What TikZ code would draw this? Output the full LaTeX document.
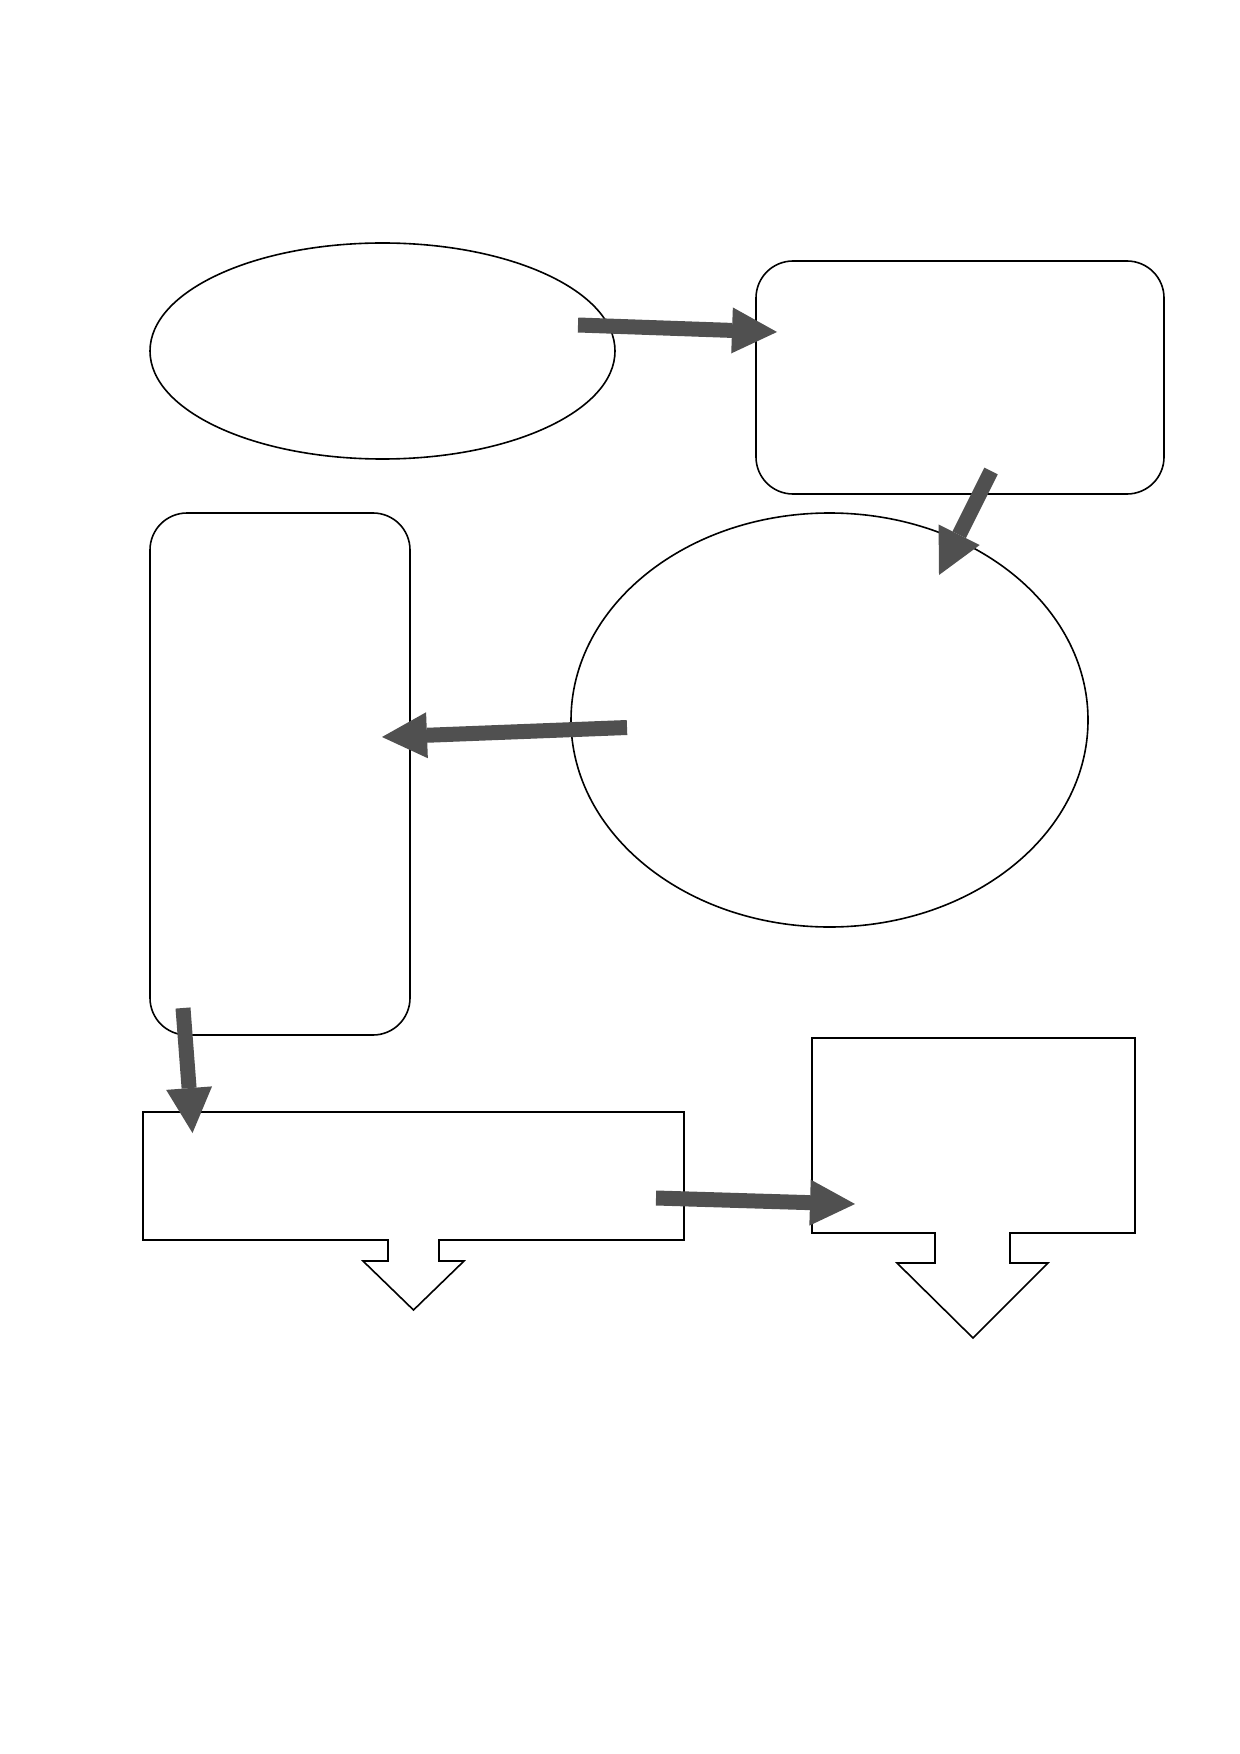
\documentclass[tikz,border=0pt]{standalone}
\usepackage{tikz}
\usetikzlibrary{shapes.geometric,arrows.meta}
\definecolor{arrowgray}{RGB}{80,80,80}

\begin{document}
\begin{tikzpicture}[x=0.5pt,y=-0.5pt,line width=0.8pt,
    oval/.style={ellipse,draw,inner sep=0pt,outer sep=0pt},
    card/.style={rectangle,draw,rounded corners=18.5pt,inner sep=0pt,outer sep=0pt},
    plainbox/.style={rectangle,inner sep=0pt,outer sep=0pt},
    bigarrow/.style={line width=7.5pt,color=arrowgray,-{Triangle[length=22.5pt,width=23pt,line width=0pt]}}]

\useasboundingbox [fill=white] (0,0) rectangle (1240,1754);

\node (topoval) [oval,minimum width=232.5pt,minimum height=108pt] at (382.5,351) {};
\node (topcard) [card,minimum width=204pt,minimum height=116.5pt] at (960,377.5) {};
\node (bigoval) [oval,minimum width=258.5pt,minimum height=207pt] at (829.5,720) {};
\node (sidecard) [card,minimum width=130pt,minimum height=261pt] at (280,774) {};
\node (widebox) [plainbox,minimum width=270.5pt,minimum height=64pt] at (413.5,1176) {};
\node (tallbox) [plainbox,minimum width=161.5pt,minimum height=97.5pt] at (973.5,1135.5) {};

% boxes with a down arrow under them
\draw (widebox.south east) -- (widebox.north east) -- (widebox.north west) -- (widebox.south west)
    -- ++(245,0) -- ++(0,21) -- ++(-25,0) -- ++(50.5,49) -- ++(50.5,-49) -- ++(-25,0) -- ++(0,-21) -- cycle;
\draw (tallbox.south east) -- (tallbox.north east) -- (tallbox.north west) -- (tallbox.south west)
    -- ++(123,0) -- ++(0,30) -- ++(-38,0) -- ++(76,75) -- ++(75,-75) -- ++(-38,0) -- ++(0,-30) -- cycle;

\coordinate (tailA) at (578,325);   \coordinate (headA) at (777,332);
\coordinate (tailB) at (991,471);   \coordinate (headB) at (939,575);
\coordinate (tailC) at (627,727.5); \coordinate (headC) at (382,737);
\coordinate (tailD) at (183,1008);  \coordinate (headD) at (192.5,1133);
\coordinate (tailE) at (656,1198);  \coordinate (headE) at (855,1204);

\path
    (tailA) edge [bigarrow] (headA)
    (tailB) edge [bigarrow] (headB)
    (tailC) edge [bigarrow] (headC)
    (tailD) edge [bigarrow] (headD)
    (tailE) edge [bigarrow] (headE)
;

\end{tikzpicture}
\end{document}
